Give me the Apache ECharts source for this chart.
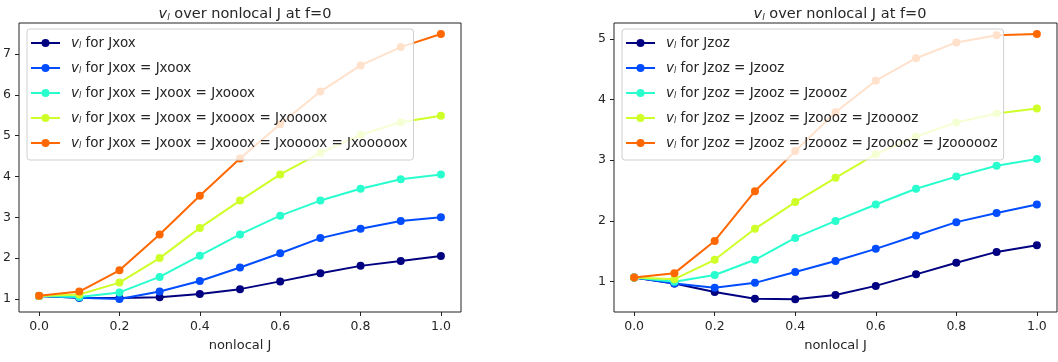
<!DOCTYPE html>
<html>
<head>
<meta charset="utf-8">
<script src="https://cdn.jsdelivr.net/npm/echarts@6/dist/echarts.min.js"></script>
<style>
html,body{margin:0;padding:0;background:#fff;}
#c{width:1058px;height:362px;}
</style>
</head>
<body>
<div id="c"></div>
<script>
// ---- data ----
const xValues = [0.0, 0.1, 0.2, 0.3, 0.4, 0.5, 0.6, 0.7, 0.8, 0.9, 1.0];
const xTicks = [0.0, 0.2, 0.4, 0.6, 0.8, 1.0];
const leftYTicks = [1, 2, 3, 4, 5, 6, 7];
const rightYTicks = [1, 2, 3, 4, 5];

const leftNames = [
  'Jxox',
  'Jxox = Jxoox',
  'Jxox = Jxoox = Jxooox',
  'Jxox = Jxoox = Jxooox = Jxoooox',
  'Jxox = Jxoox = Jxooox = Jxoooox = Jxooooox'
];
const leftSeries1 = [1.07, 1.03, 1.02, 1.04, 1.12, 1.24, 1.43, 1.63, 1.81, 1.93, 2.05];
const leftSeries2 = [1.07, 1.03, 1.00, 1.18, 1.44, 1.77, 2.12, 2.49, 2.72, 2.91, 3.00];
const leftSeries3 = [1.07, 1.05, 1.16, 1.54, 2.06, 2.58, 3.04, 3.41, 3.70, 3.93, 4.05];
const leftSeries4 = [1.07, 1.11, 1.40, 2.00, 2.74, 3.41, 4.05, 4.58, 5.02, 5.33, 5.49];
const leftSeries5 = [1.08, 1.18, 1.70, 2.58, 3.53, 4.44, 5.28, 6.08, 6.72, 7.17, 7.49];

const rightNames = [
  'Jzoz',
  'Jzoz = Jzooz',
  'Jzoz = Jzooz = Jzoooz',
  'Jzoz = Jzooz = Jzoooz = Jzooooz',
  'Jzoz = Jzooz = Jzoooz = Jzooooz = Jzoooooz'
];
const rightSeries1 = [1.07, 0.97, 0.83, 0.72, 0.71, 0.78, 0.93, 1.12, 1.31, 1.49, 1.60];
const rightSeries2 = [1.07, 0.97, 0.90, 0.98, 1.16, 1.34, 1.54, 1.76, 1.98, 2.13, 2.27];
const rightSeries3 = [1.07, 1.00, 1.11, 1.36, 1.72, 2.00, 2.27, 2.53, 2.73, 2.91, 3.02];
const rightSeries4 = [1.07, 1.04, 1.36, 1.87, 2.31, 2.71, 3.10, 3.39, 3.62, 3.77, 3.85];
const rightSeries5 = [1.07, 1.14, 1.67, 2.49, 3.15, 3.79, 4.31, 4.68, 4.94, 5.06, 5.08];

const titleText = 'over nonlocal J at f=0';
const xAxisName = 'nonlocal J';
const colors = ['#000080', '#004cff', '#29ffce', '#ceff29', '#ff6800'];

// ---- build ----
const leftData = [leftSeries1, leftSeries2, leftSeries3, leftSeries4, leftSeries5];
const rightData = [rightSeries1, rightSeries2, rightSeries3, rightSeries4, rightSeries5];
const FONT = 'DejaVu Sans';
const TXT = '#262626';

const richV = {
  v: {fontFamily: FONT, fontStyle: 'italic', fontSize: 13.5, color: TXT, lineHeight: 14},
  s: {fontFamily: FONT, fontStyle: 'italic', fontSize: 8, color: TXT, lineHeight: 14, padding: [6, 0, 0, 0]},
  t: {fontFamily: FONT, fontSize: 13.5, color: TXT, lineHeight: 14}
};
const richTitle = {
  v: {fontFamily: FONT, fontStyle: 'italic', fontWeight: 'normal', fontSize: 14.5, color: TXT, lineHeight: 18},
  s: {fontFamily: FONT, fontStyle: 'italic', fontWeight: 'normal', fontSize: 9, color: TXT, lineHeight: 18, padding: [7, 0, 0, 0]},
  t: {fontFamily: FONT, fontWeight: 'normal', fontSize: 14.5, color: TXT, lineHeight: 18}
};

function xAxis(gi) {
  return {
    type: 'value', gridIndex: gi, min: -0.05, max: 1.05,
    name: xAxisName, nameLocation: 'middle', nameGap: 27,
    nameTextStyle: {fontFamily: FONT, fontSize: 13, color: TXT},
    axisLine: {show: false, onZero: false},
    splitLine: {show: false},
    axisTick: {show: true, length: 4, lineStyle: {color: '#222'}, customValues: xTicks},
    axisLabel: {show: true, fontFamily: FONT, fontSize: 12.5, color: TXT, margin: 8,
      customValues: xTicks, formatter: v => Number(v).toFixed(1)}
  };
}
function yAxis(gi, mn, mx, ticks) {
  return {
    type: 'value', gridIndex: gi, min: mn, max: mx,
    axisLine: {show: false, onZero: false},
    splitLine: {show: false},
    axisTick: {show: true, length: 4, lineStyle: {color: '#222'}, customValues: ticks},
    axisLabel: {show: true, fontFamily: FONT, fontSize: 12.5, color: TXT, margin: 8,
      customValues: ticks, formatter: v => String(Math.round(v))}
  };
}
function legend(names, left) {
  return {
    data: names, orient: 'vertical', left: left, top: 29,
    itemWidth: 29, itemHeight: 10, itemGap: 11,
    padding: [7, 6, 10, 3],
    backgroundColor: 'rgba(255,255,255,0.8)',
    borderColor: '#d0d0d0', borderWidth: 1, borderRadius: 3,
    formatter: n => '{v|v}{s|l}{t| for ' + n + '}',
    textStyle: {fontFamily: FONT, fontSize: 13.5, color: TXT, rich: richV, padding: [0, 0, 0, 6]},
    selectedMode: false
  };
}
function makeSeries(names, data, gi) {
  return names.map((n, k) => ({
    name: n, type: 'line', xAxisIndex: gi, yAxisIndex: gi,
    data: xValues.map((x, i) => [x, data[k][i]]),
    symbol: 'circle', symbolSize: 8, showAllSymbol: true,
    lineStyle: {width: 2, color: colors[k]},
    itemStyle: {color: colors[k]},
    z: 2 + k * 0.01
  }));
}

const option = {
  animation: false,
  backgroundColor: '#fff',
  title: [
    {text: '{v|v}{s|l}{t| ' + titleText + '}', left: 240, top: 0, textAlign: 'center',
      textStyle: {rich: richTitle, fontWeight: 'normal'}},
    {text: '{v|v}{s|l}{t| ' + titleText + '}', left: 835, top: 0, textAlign: 'center',
      textStyle: {rich: richTitle, fontWeight: 'normal'}}
  ],
  grid: [
    {left: 19, top: 23, width: 442, height: 289, show: true, borderColor: '#222', borderWidth: 1, backgroundColor: 'transparent'},
    {left: 614, top: 23, width: 443, height: 289, show: true, borderColor: '#222', borderWidth: 1, backgroundColor: 'transparent'}
  ],
  xAxis: [xAxis(0), xAxis(1)],
  yAxis: [yAxis(0, 0.68, 7.76, leftYTicks), yAxis(1, 0.50, 5.26, rightYTicks)],
  legend: [legend(leftNames, 27), legend(rightNames, 622)],
  series: makeSeries(leftNames, leftData, 0).concat(makeSeries(rightNames, rightData, 1))
};

const chart = echarts.init(document.getElementById('c'), null, {renderer: 'canvas'});
chart.setOption(option);
</script>
</body>
</html>
